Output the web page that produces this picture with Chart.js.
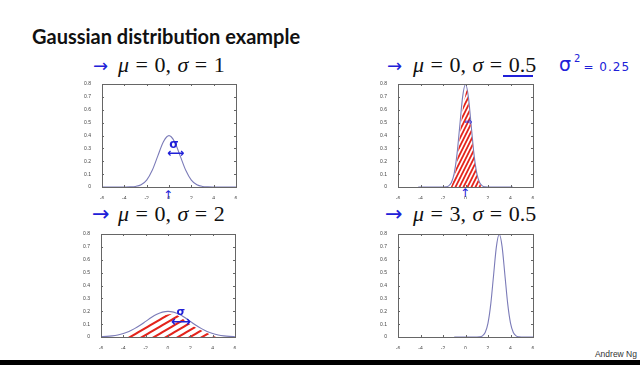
<!DOCTYPE html>
<html>
<head>
<meta charset="utf-8">
<script src="https://cdn.jsdelivr.net/npm/chart.js@4.4.1/dist/chart.umd.min.js"></script>
<style>
  body { margin: 0; background: #fff; width: 640px; height: 365px; overflow: hidden; position: relative; }
  .abs { position: absolute; white-space: nowrap; }
  .title { font: bold 20px Lato, sans-serif; color: #111; }
  .math { font-family: "Liberation Serif", serif; color: #111; font-size: 22px; word-spacing: 1px; }
  .math i { font-style: italic; }
  .ink { color: #2020d8; font-family: "DejaVu Sans", sans-serif; }
  canvas { position: absolute; }
</style>
</head>
<body>

<div class="abs title" style="left:32px;top:24px">Gaussian distribution example</div>

<div class="abs ink" style="left:93px;top:55px;font-size:18px">&#8594;</div>
<div class="abs math" style="left:118px;top:52px"><i>μ</i> = 0, <i>σ</i> = 1</div>

<div class="abs ink" style="left:387px;top:55px;font-size:18px">&#8594;</div>
<div class="abs math" style="left:413px;top:52px"><i>μ</i> = 0, <i>σ</i> = 0.5</div>
<div class="abs" style="left:503px;top:75px;width:30px;height:2px;background:#2020d8"></div>
<div class="abs ink" style="left:559px;top:53px;font-size:19px">σ<span style="font-size:10px;position:relative;top:-9px;margin-left:3px;margin-right:3px">2</span><span style="font-size:12px;letter-spacing:1px">= 0.25</span></div>

<div class="abs ink" style="left:92px;top:202px;font-size:21px">&#8594;</div>
<div class="abs math" style="left:118px;top:201px"><i>μ</i> = 0, <i>σ</i> = 2</div>

<div class="abs ink" style="left:385px;top:202px;font-size:21px">&#8594;</div>
<div class="abs math" style="left:413px;top:201px"><i>μ</i> = 3, <i>σ</i> = 0.5</div>

<div class="abs ink" style="left:163px;top:188px;font-size:12px">&#8593;</div>
<div class="abs ink" style="left:460px;top:186px;font-size:12px">&#8593;</div>

<div class="abs" style="right:3px;top:349px;font:8.5px 'Liberation Sans',sans-serif;color:#333">Andrew Ng</div>
<div class="abs" style="left:0;top:360px;width:640px;height:5px;background:#000"></div>

<canvas id="c1" width="163" height="121" style="left:78px;top:78px"></canvas>
<canvas id="c2" width="164" height="121" style="left:374px;top:78px"></canvas>
<canvas id="c3" width="163" height="121" style="left:77px;top:228px"></canvas>
<canvas id="c4" width="164" height="121" style="left:374px;top:228px"></canvas>

<script>
// curve values
const x1 = [-6,-5.5,-5,-4.5,-4,-3.5,-3,-2.5,-2,-1.5,-1,-0.5,0,0.5,1,1.5,2,2.5,3,3.5,4,4.5,5,5.5,6];
const y1 = [0,0,0,0,0.0001,0.0009,0.0044,0.0175,0.054,0.13,0.242,0.352,0.399,0.352,0.242,0.13,0.054,0.0175,0.0044,0.0009,0.0001,0,0,0,0];

const x2 = [-4.2,-3,-2.5,-2,-1.75,-1.5,-1.25,-1,-0.75,-0.5,-0.25,0,0.25,0.5,0.75,1,1.25,1.5,1.75,2,2.5,3,4.2];
const y2 = [0,0,0,0.0003,0.0017,0.0089,0.035,0.108,0.259,0.484,0.704,0.798,0.704,0.484,0.259,0.108,0.035,0.0089,0.0017,0.0003,0,0,0];

const x3 = [-6,-5.5,-5,-4.5,-4,-3.5,-3,-2.5,-2,-1.5,-1,-0.5,0,0.5,1,1.5,2,2.5,3,3.5,4,4.5,5,5.5,6];
const y3 = [0.0022,0.0045,0.0088,0.016,0.027,0.043,0.065,0.091,0.121,0.151,0.176,0.193,0.199,0.193,0.176,0.151,0.121,0.091,0.065,0.043,0.027,0.016,0.0088,0.0045,0.0022];

const x4 = [-1,0,1,1.25,1.5,1.75,2,2.25,2.5,2.75,3,3.25,3.5,3.75,4,4.25,4.5,4.75,5,5.5,6];
const y4 = [0,0,0.0003,0.0017,0.0089,0.035,0.108,0.259,0.484,0.704,0.798,0.704,0.484,0.259,0.108,0.035,0.0089,0.0017,0.0003,0,0];

// hand-drawn red shading (rough outline of the hatched areas)
const hx2 = [-1.3,-1,-0.75,-0.5,-0.25,0,0.1,0.25,0.5,0.75,1,1.25,1.45];
const hy2 = [0,0.08,0.2,0.4,0.6,0.72,0.77,0.66,0.44,0.23,0.09,0.03,0];
const hx3 = [-4.1,-3,-2,-1,0,0.5,1,2,3,4.3];
const hy3 = [0,0.04,0.1,0.15,0.175,0.18,0.16,0.1,0.05,0];

const xTicks = [-6,-4,-2,0,2,4,6];
const yTicks = [0,0.1,0.2,0.3,0.4,0.5,0.6,0.7,0.8];

// blue pen notes inside the panels
const notes1 = [{x:0.45, y:0.33, t:'σ', s:12}, {x:0.6, y:0.255, t:'⟷', s:12}];
const notes2 = [{x:0.3, y:0.5, t:'⇨', s:9}];
const notes3 = [{x:1.15, y:0.19, t:'σ', s:11}, {x:1.15, y:0.11, t:'⟷', s:14}];

const lineColor = '#7b7bb8';
const penBlue = '#2020d8';
const penRed = '#e3241c';

function hatch(w, h, lw) {
  const c = document.createElement('canvas');
  c.width = w; c.height = h;
  const g = c.getContext('2d');
  g.strokeStyle = penRed;
  g.lineWidth = lw;
  g.beginPath();
  g.moveTo(-w, 2*h); g.lineTo(2*w, -h);
  g.moveTo(-2*w, 2*h); g.lineTo(w, -h);
  g.moveTo(0, 2*h); g.lineTo(3*w, -h);
  g.stroke();
  return g.createPattern(c, 'repeat');
}

const boxPlugin = {
  id: 'box',
  afterDatasetsDraw(chart) {
    const {ctx, chartArea: a, scales} = chart;
    ctx.save();
    ctx.strokeStyle = '#666';
    ctx.lineWidth = 1;
    ctx.strokeRect(a.left + 0.5, a.top + 0.5, a.right - a.left, a.bottom - a.top);
    ctx.beginPath();
    for (const v of xTicks) {
      const px = Math.round(scales.x.getPixelForValue(v)) + 0.5;
      ctx.moveTo(px, a.bottom); ctx.lineTo(px, a.bottom - 2);
      ctx.moveTo(px, a.top); ctx.lineTo(px, a.top + 2);
    }
    for (const v of yTicks) {
      const py = Math.round(scales.y.getPixelForValue(v)) + 0.5;
      ctx.moveTo(a.left, py); ctx.lineTo(a.left + 2, py);
      ctx.moveTo(a.right, py); ctx.lineTo(a.right - 2, py);
    }
    ctx.stroke();
    const notes = chart.options.plugins.box.notes || [];
    ctx.fillStyle = penBlue;
    ctx.textAlign = 'center';
    ctx.textBaseline = 'middle';
    for (const n of notes) {
      ctx.font = 'bold ' + n.s + 'px "DejaVu Sans"';
      ctx.fillText(n.t, scales.x.getPixelForValue(n.x), scales.y.getPixelForValue(n.y));
    }
    ctx.restore();
  }
};

function pts(xs, ys) {
  return xs.map((x, i) => ({x: x, y: ys[i]}));
}

function makePanel(id, xs, ys, shade, notes) {
  const datasets = [];
  if (shade) {
    datasets.push({
      data: pts(shade.x, shade.y),
      borderWidth: 0,
      pointRadius: 0,
      fill: 'origin',
      backgroundColor: shade.pattern,
      cubicInterpolationMode: 'monotone'
    });
  }
  datasets.push({
    data: pts(xs, ys),
    borderColor: lineColor,
    borderWidth: 1.1,
    pointRadius: 0,
    fill: false,
    cubicInterpolationMode: 'monotone'
  });
  new Chart(document.getElementById(id), {
    type: 'line',
    data: {datasets: datasets},
    options: {
      responsive: false,
      animation: false,
      layout: {padding: {left: 0, top: 4, right: 5, bottom: 0}},
      plugins: {legend: {display: false}, tooltip: {enabled: false}, box: {notes: notes}},
      scales: {
        x: {
          type: 'linear', min: -6, max: 6,
          grid: {display: false}, border: {display: false},
          afterBuildTicks: s => { s.ticks = xTicks.map(v => ({value: v})); },
          afterFit: s => { s.height = 12; },
          ticks: {padding: 1, font: {size: 5, family: 'Liberation Sans'}, color: '#444', maxRotation: 0}
        },
        y: {
          min: 0, max: 0.8,
          grid: {display: false}, border: {display: false},
          afterBuildTicks: s => { s.ticks = yTicks.map(v => ({value: v})); },
          afterFit: s => { s.width = 24; },
          ticks: {padding: 3, font: {size: 5, family: 'Liberation Sans'}, color: '#444',
                  callback: v => String(+v.toFixed(1))}
        }
      }
    },
    plugins: [boxPlugin]
  });
}

makePanel('c1', x1, y1, null, notes1);
makePanel('c2', x2, y2, {x: hx2, y: hy2, pattern: hatch(4, 8, 1.8)}, notes2);
makePanel('c3', x3, y3, {x: hx3, y: hy3, pattern: hatch(12, 7, 2)}, notes3);
makePanel('c4', x4, y4, null, []);
</script>
</body>
</html>
